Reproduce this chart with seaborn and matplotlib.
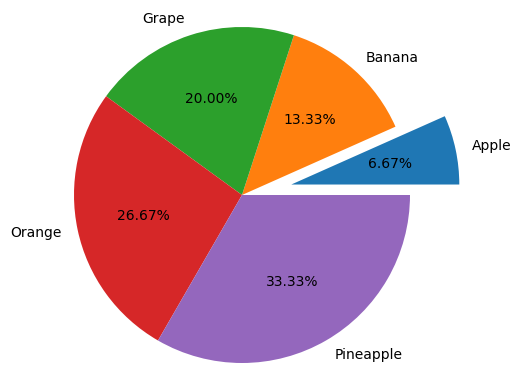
import matplotlib
matplotlib.use("Agg")
import matplotlib.pyplot as plt
import seaborn as sns

labels = ["Apple", "Banana", "Grape", "Orange", "Pineapple"]
values = [1, 2, 3, 4, 5]
explode = [0.3, 0, 0, 0, 0]

colors = sns.color_palette("tab10", len(labels))

W, H = 524, 389
cx, cy, r = 242, 194, 168  # pixel center (from bottom) and radius

fig = plt.figure(figsize=(W / 100, H / 100), dpi=100)
ax = fig.add_axes([0, 0, 1, 1])
ax.pie(values, labels=labels, explode=explode, colors=colors,
       autopct="%.2f%%", startangle=0, counterclock=True)
ax.set_xlim(-cx / r, (W - cx) / r)
ax.set_ylim(-cy / r, (H - cy) / r)
ax.set_aspect("equal", adjustable="box")
ax.axis("off")
fig.savefig("out.png", dpi=100)
